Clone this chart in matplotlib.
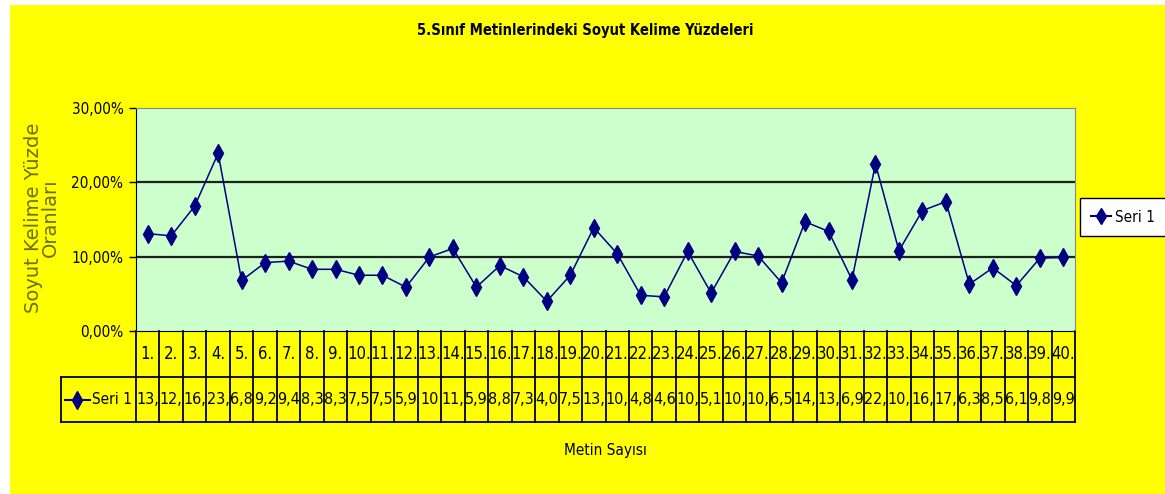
import matplotlib
matplotlib.use('Agg')
import matplotlib.pyplot as plt
from matplotlib.patches import Rectangle
from matplotlib.lines import Line2D

# data (percent)
categories = [f'{i}.' for i in range(1, 41)]
values = [13.1, 12.8, 16.8, 23.9, 6.8, 9.2, 9.4, 8.3, 8.3, 7.5,
          7.5, 5.9, 9.97, 11.1, 5.9, 8.8, 7.3, 4.0, 7.5, 13.9,
          10.4, 4.8, 4.6, 10.7, 5.1, 10.7, 10.1, 6.5, 14.7, 13.4,
          6.9, 22.5, 10.8, 16.2, 17.4, 6.3, 8.5, 6.1, 9.8, 9.9]
# what the (too narrow) table cells show
cell_text = ['13,', '12,', '16,', '23,', '6,8', '9,2', '9,4', '8,3', '8,3', '7,5',
             '7,5', '5,9', '10', '11,', '5,9', '8,8', '7,3', '4,0', '7,5', '13,',
             '10,', '4,8', '4,6', '10,', '5,1', '10,', '10,', '6,5', '14,', '13,',
             '6,9', '22,', '10,', '16,', '17,', '6,3', '8,5', '6,1', '9,8', '9,9']
yticks = [0, 10, 20, 30]
ytick_labels = ['0,00%', '10,00%', '20,00%', '30,00%']
series_name = 'Seri 1'

narrow = dict(family=['Liberation Sans Narrow', 'DejaVu Sans'], stretch='condensed')
navy = '#000080'

W, H = 1165, 494
fig = plt.figure(figsize=(W / 100, H / 100), dpi=100)
fig.patch.set_facecolor('white')

def fx(px):
    return px / W

def fy(py):
    return 1 - py / H

# yellow chart area
fig.patches.append(Rectangle((fx(10), 0), 1 - fx(10), fy(5), transform=fig.transFigure,
                             facecolor='#ffff00', edgecolor='none', zorder=-5))

ax = fig.add_axes([fx(136), fy(331), fx(1075) - fx(136), (331 - 108) / H])
ax.set_facecolor('#ccffcc')

x = list(range(1, len(values) + 1))
ax.plot(x, values, color=navy, lw=1.1, marker='d', ms=9, mfc=navy, mec=navy, zorder=3)

ax.set_xlim(0.5, len(values) + 0.5)
ax.set_ylim(0, 30)
for g in [10, 20]:
    ax.axhline(g, color='#202020', lw=1.6, zorder=1)

ax.set_xticks([])
ax.set_yticks(yticks)
ax.set_yticklabels(ytick_labels, fontsize=11, **narrow)
ax.tick_params(axis='y', direction='out', length=5, width=1, color='black', pad=4)
ax.spines['left'].set_color('black')
ax.spines['bottom'].set_color('black')
ax.spines['top'].set_color('#888888')
ax.spines['right'].set_color('#888888')

# data table under the plot
tr = ax.get_xaxis_transform()
r1 = -46 / 223
r2 = -91 / 223
px_per_cat = (1075 - 136) / len(values)

def dx(px):
    return 0.5 + (px - 136) / px_per_cat

left = dx(61)
right = len(values) + 0.5
lk = dict(color='black', lw=1.3, transform=tr, clip_on=False)
ax.plot([left, right], [r1, r1], **lk)
ax.plot([left, right], [r2, r2], **lk)
ax.plot([left, left], [r1, r2], **lk)
for k in range(len(values) + 1):
    ax.plot([k + 0.5, k + 0.5], [0, r2], **lk)

for xi, cat, txt in zip(x, categories, cell_text):
    ax.text(xi, r1 / 2, cat, transform=tr, ha='center', va='center',
            fontsize=12, **narrow)
    ax.text(xi, (r1 + r2) / 2, txt, transform=tr, ha='center', va='center',
            fontsize=11.5, **narrow)

ym = (r1 + r2) / 2
ax.plot([dx(65), dx(90)], [ym, ym], color=navy, lw=1.5, transform=tr, clip_on=False)
ax.plot([dx(77)], [ym], color=navy, marker='d', ms=9, transform=tr, clip_on=False)
ax.text(dx(92), ym, series_name, transform=tr, ha='left', va='center',
        fontsize=11, **narrow)

# legend box
handle = Line2D([], [], color=navy, lw=1.5, marker='d', ms=8, mfc=navy, mec=navy)
leg = fig.legend([handle], [series_name], loc='center', bbox_to_anchor=(fx(1123), fy(217)),
                 fancybox=False, framealpha=1, edgecolor='black', facecolor='white',
                 handlelength=1.3, handletextpad=0.25, borderpad=0.75, borderaxespad=0,
                 prop=dict(size=11, **narrow))
leg.get_frame().set_linewidth(1.0)
leg._legend_box.sep = 2

# titles
fig.text(fx(585), fy(30), '5.Sınıf Metinlerindeki Soyut Kelime Yüzdeleri', ha='center',
         va='center', fontsize=10.5, fontweight='bold', **narrow)
fig.text(fx(605), fy(450), 'Metin Sayısı', ha='center', va='center', fontsize=11, **narrow)
fig.text(fx(42), fy(218), 'Soyut Kelime Yüzde\nOranları', rotation=90, ha='center',
         va='center', multialignment='center', color='#6e6e00', fontsize=14,
         linespacing=0.85)

fig.savefig('out.png', dpi=100, facecolor=fig.get_facecolor())
